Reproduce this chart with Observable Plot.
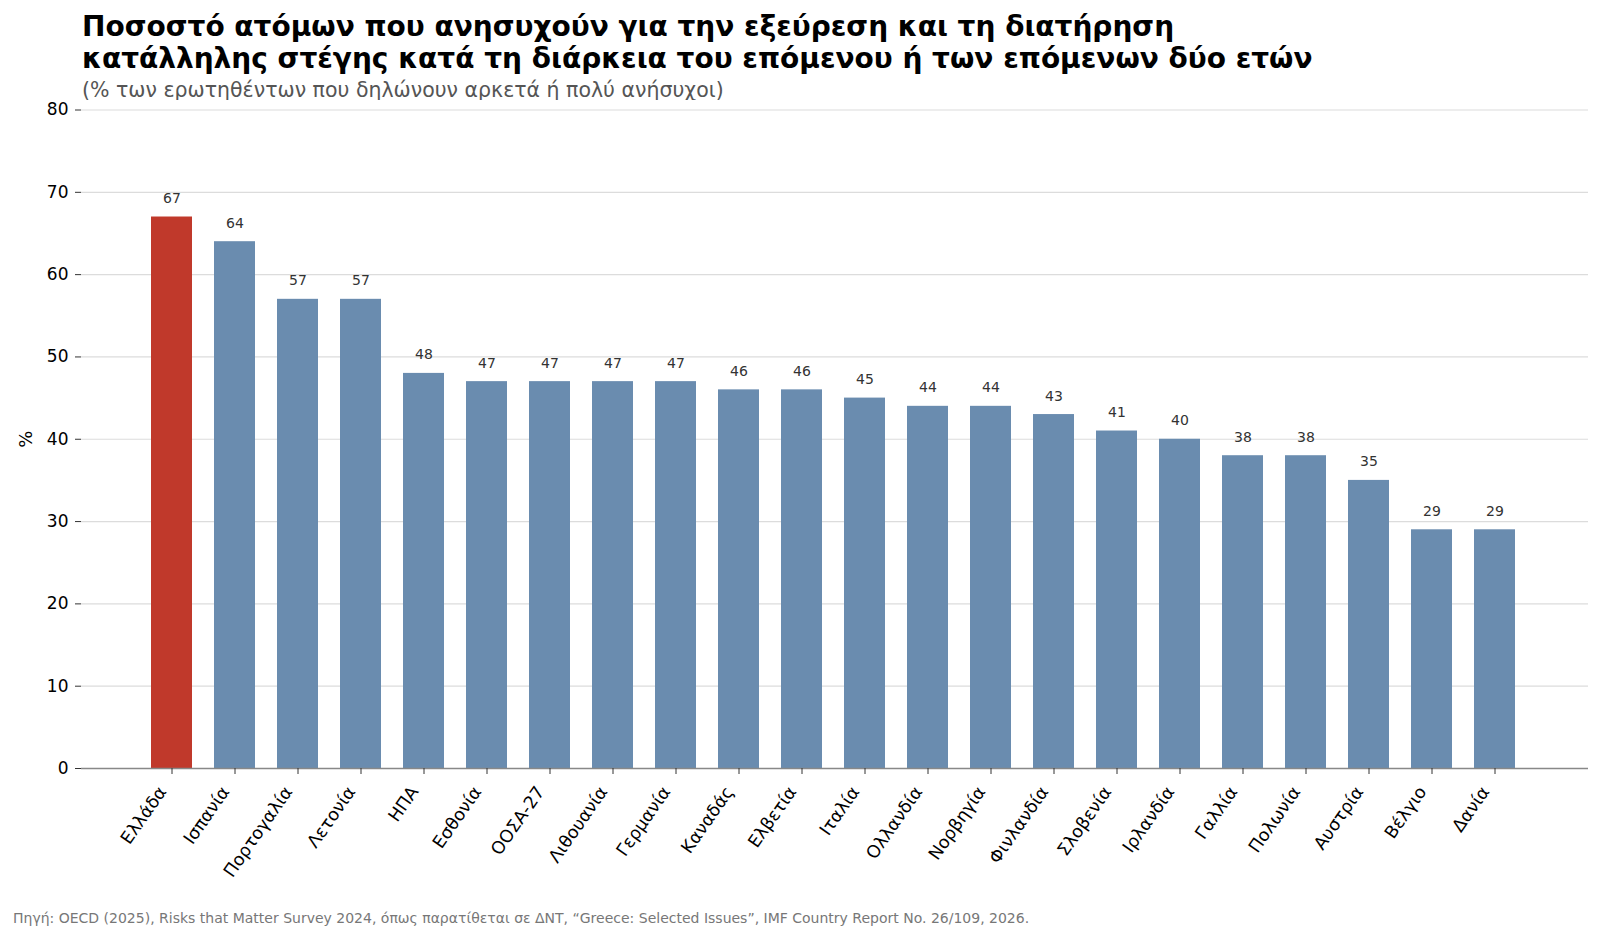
<!DOCTYPE html>
<html>
<head>
<meta charset="utf-8">
<script src="https://cdn.jsdelivr.net/npm/d3@7"></script>
<script src="https://cdn.jsdelivr.net/npm/@observablehq/plot@0.6"></script>
<style>
  html, body { margin: 0; padding: 0; background: #fff; }
  body { width: 1600px; height: 939px; position: relative; overflow: hidden; font-family: "DejaVu Sans", sans-serif; }
  #title { position: absolute; left: 82px; top: 10.5px; font-size: 28px; line-height: 32.6px; font-weight: bold; color: #000; white-space: nowrap; }
  #subtitle { position: absolute; left: 82px; top: 78px; font-size: 20.5px; line-height: 24px; color: #555; white-space: nowrap; }
  #chart { position: absolute; left: 0; top: 100px; }
  #footer { position: absolute; left: 13px; top: 909.7px; font-size: 14px; line-height: 16.8px; color: #777; white-space: nowrap; }
</style>
</head>
<body>
<div id="title">Ποσοστό ατόμων που ανησυχούν για την εξεύρεση και τη διατήρηση<br>κατάλληλης στέγης κατά τη διάρκεια του επόμενου ή των επόμενων δύο ετών</div>
<div id="subtitle">(% των ερωτηθέντων που δηλώνουν αρκετά ή πολύ ανήσυχοι)</div>
<div id="chart"></div>
<div id="footer">Πηγή: OECD (2025), Risks that Matter Survey 2024, όπως παρατίθεται σε ΔΝΤ, “Greece: Selected Issues”, IMF Country Report No. 26/109, 2026.</div>
<script>
const countries = ["Ελλάδα","Ισπανία","Πορτογαλία","Λετονία","ΗΠΑ","Εσθονία","ΟΟΣΑ-27","Λιθουανία","Γερμανία","Καναδάς","Ελβετία","Ιταλία","Ολλανδία","Νορβηγία","Φινλανδία","Σλοβενία","Ιρλανδία","Γαλλία","Πολωνία","Αυστρία","Βέλγιο","Δανία"];
const values = [67,64,57,57,48,47,47,47,47,46,46,45,44,44,43,41,40,38,38,35,29,29];
const highlight = "Ελλάδα";
const yTicks = [0,10,20,30,40,50,60,70,80];
const colorHighlight = "#c0392b";
const colorOther = "#6a8caf";

const data = countries.map((c, i) => ({country: c, value: values[i]}));

const chart = Plot.plot({
  width: 1600,
  height: 800,
  marginTop: 9.5,
  marginBottom: 132,
  marginLeft: 81,
  marginRight: 12,
  style: {fontFamily: "DejaVu Sans, sans-serif", background: "white", overflow: "visible"},
  x: {domain: countries, range: [127, 1539.6], padding: 0.35, label: null},
  y: {domain: [0, 80], label: null},
  marks: [
    Plot.ruleY(yTicks.filter(d => d > 0), {stroke: "#dcdcdc", strokeWidth: 1.2}),
    Plot.barY(data, {x: "country", y: "value", fill: d => d.country === highlight ? colorHighlight : colorOther}),
    Plot.ruleY([0], {stroke: "#888", strokeWidth: 1.5}),
    Plot.text(data, {x: "country", y: "value", text: d => String(d.value), dy: -14, lineAnchor: "bottom", fontSize: 14, fill: "#333"}),
    Plot.axisY({ticks: yTicks, tickSize: 6, tickPadding: 7, fontSize: 17, label: null, stroke: "#333", color: "#000"}),
    Plot.axisX({tickSize: 6, tickFormat: () => "", label: null, stroke: "#333"}),
    Plot.text(data, {x: "country", y: () => 0, text: "country", rotate: -55, textAnchor: "end", lineAnchor: "middle", dx: -9.4, dy: 20, fontSize: 17.5, fill: "#000"}),
    Plot.text(["%"], {frameAnchor: "left", dx: -55.5, rotate: -90, textAnchor: "middle", text: d => d, fontSize: 18, fill: "#000"})
  ]
});
document.getElementById("chart").appendChild(chart);
</script>
</body>
</html>
